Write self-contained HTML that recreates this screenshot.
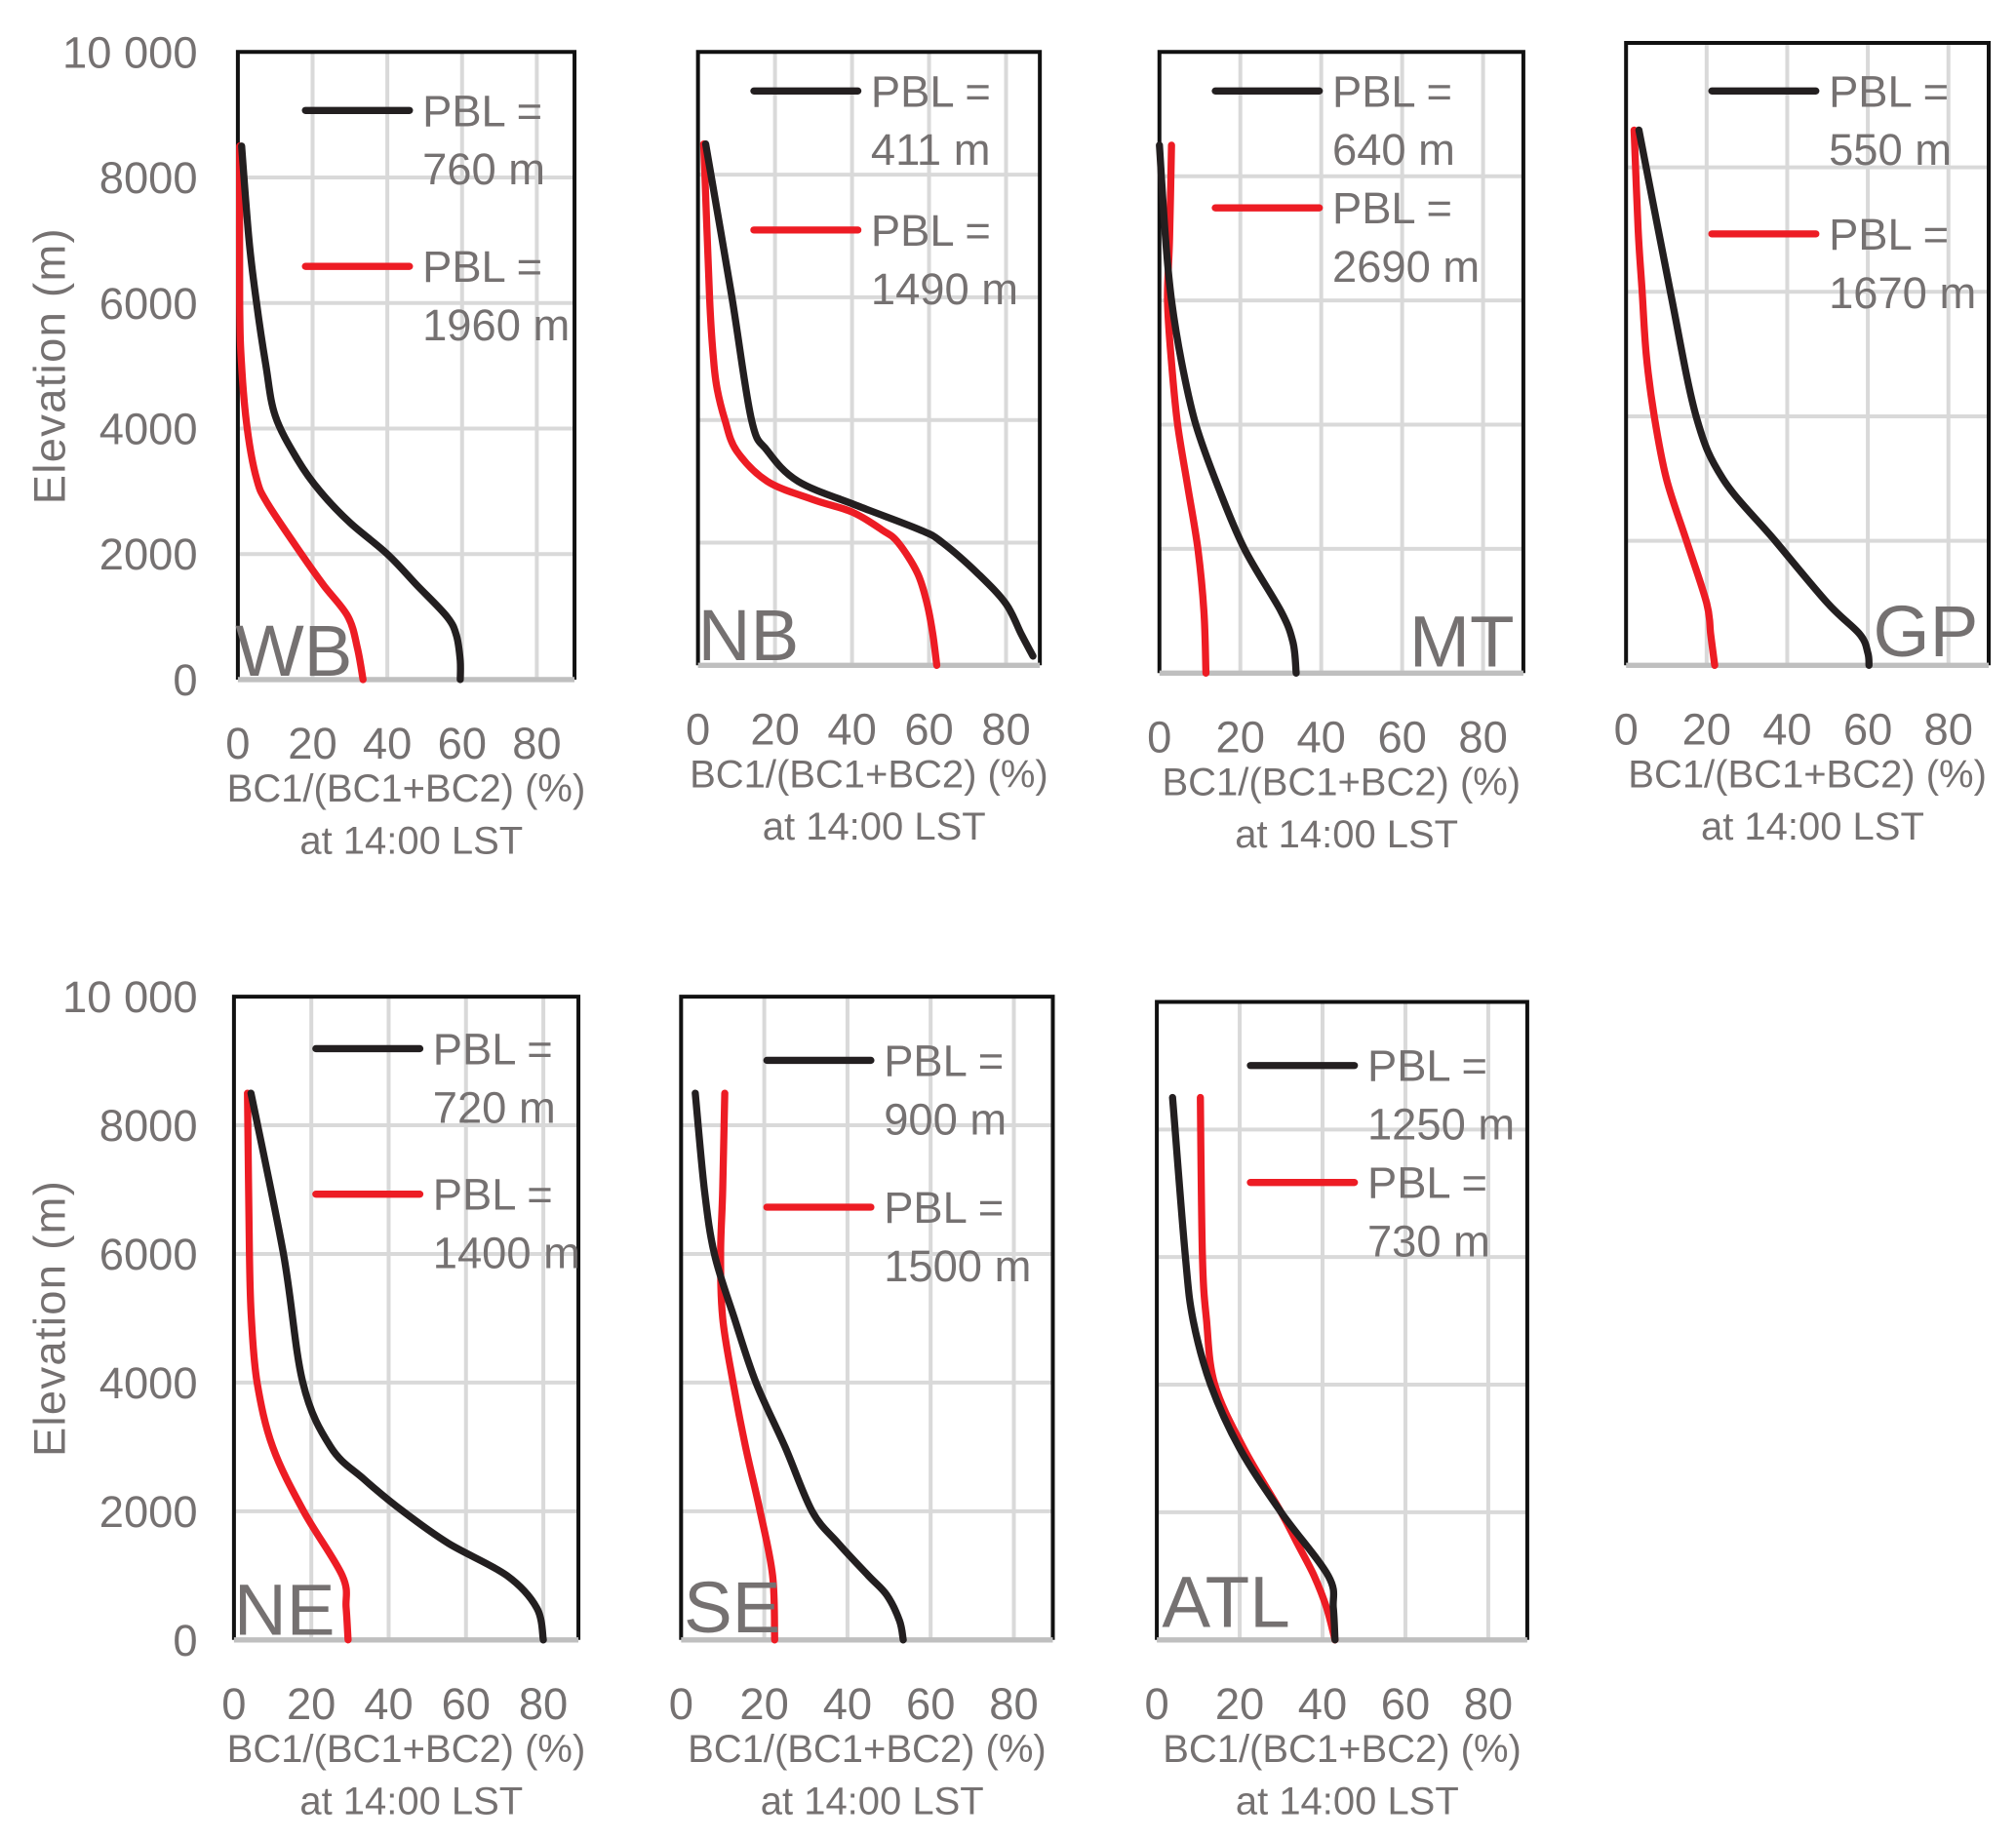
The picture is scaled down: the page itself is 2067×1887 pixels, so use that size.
<!DOCTYPE html>
<html><head><meta charset="utf-8"><style>
html,body{margin:0;padding:0;background:#fff;}
svg{display:block;font-family:"Liberation Sans Narrow","Liberation Sans",sans-serif;}
</style></head><body>
<svg id="fig" width="2067" height="1887" viewBox="0 0 1551 1416" preserveAspectRatio="none" xmlns="http://www.w3.org/2000/svg"></svg>
<script>
// Panel data: [elevation m, BC1/(BC1+BC2) %]
const panelNames = ["WB","NB","MT","GP","NE","SE","ATL"];
const pblBlack = ["760 m","411 m","640 m","550 m","720 m","900 m","1250 m"];
const pblRed = ["1960 m","1490 m","2690 m","1670 m","1400 m","1500 m","730 m"];
const xTicks = [0,20,40,60,80];
const yTicks = [0,2000,4000,6000,8000,10000];
const yTickLabels = ["0","2000","4000","6000","8000","10 000"];
const wbBlack = [[8500,1],[7000,3],[6000,5],[5000,7.5],[4200,10],[3500,16],[3000,22],[2500,30],[2000,40],[1500,48],[1000,56],[700,58.5],[300,59.5],[0,59.5]];
const wbRed = [[8500,0.5],[6000,0.5],[5000,1],[4000,2.5],[3200,5],[2800,8],[2000,17],[1500,23],[1000,29.5],[500,32],[0,33.5]];
const nbBlack = [[8500,2],[6000,8.8],[4000,13.9],[3500,18],[3000,26],[2600,41.5],[2200,58],[2000,63.5],[1500,72.6],[1000,80],[500,84],[150,87]];
const nbRed = [[8500,1.5],[6000,3],[5000,4],[4500,5],[4000,7],[3500,10],[3000,18],[2700,30],[2500,40],[2200,48],[2000,52],[1500,57],[1000,59.5],[500,61],[0,62]];
const mtBlack = [[8500,0],[7000,1.5],[6000,3],[5000,5.5],[4000,9],[3000,14.5],[2000,21],[1000,30],[500,33],[0,33.8]];
const mtRed = [[8500,3],[7000,2.5],[6000,2],[5000,3],[4000,4.5],[3000,7],[2000,9.5],[1000,11],[0,11.5]];
const gpBlack = [[8600,3.2],[6000,11],[4000,17.4],[3000,24],[2000,37],[1000,50],[500,58],[200,60],[0,60.3]];
const gpRed = [[8600,2],[7000,3],[6000,4],[5000,5],[4000,7],[3000,10],[2000,15],[1000,20],[500,21],[0,22]];
const neBlack = [[8500,4.4],[6000,12.8],[4000,17.8],[3000,25],[2500,33.6],[2000,43.7],[1500,55.5],[1000,70.6],[500,78.3],[0,80]];
const neRed = [[8500,3.5],[6000,4],[5000,4.5],[4000,6],[3000,10],[2000,18],[1000,28],[500,29],[0,29.5]];
const seBlack = [[8500,3.4],[7000,5.6],[6000,8],[5000,12.8],[4000,18],[3000,25],[2000,31.5],[1500,37.8],[1000,45],[700,49.4],[300,52.5],[0,53.4]];
const seRed = [[8500,10.5],[7000,10],[6000,9.5],[5000,10],[4000,12.5],[3000,15.5],[2000,19],[1000,22],[0,22.5]];
const atlBlack = [[8500,3.8],[6000,6.9],[5000,8.8],[4000,13],[3000,20],[2000,30],[1000,41.4],[500,42.6],[0,43]];
const atlRed = [[8500,10.5],[6000,11],[5000,12],[4000,14],[3000,21],[2000,30],[1500,34],[1000,38],[500,41],[0,43]];
const blackSeries = [wbBlack,nbBlack,mtBlack,gpBlack,neBlack,seBlack,atlBlack];
const redSeries = [wbRed,nbRed,mtRed,gpRed,neRed,seRed,atlRed];

const frames = [
 {L:183,R:442,T:40,B:523,x80:413,leg:[235,85,205],lab:[181,520,"start"],yl:true},
 {L:537,R:800,T:40,B:512,x80:774,leg:[580,70,177],lab:[537,508,"start"]},
 {L:892,R:1172,T:40,B:518,x80:1141,leg:[935,70,160],lab:[1165,513,"end"]},
 {L:1251,R:1530,T:33,B:512,x80:1499,leg:[1317,70,180],lab:[1522,505,"end"]},
 {L:180,R:445,T:767,B:1262,x80:418,leg:[243,807,919],lab:[180,1258,"start"],yl:true},
 {L:524,R:810,T:767,B:1262,x80:780,leg:[590,816,929],lab:[526,1256,"start"]},
 {L:890,R:1175,T:771,B:1262,x80:1145,leg:[962,820,910],lab:[894,1252,"start"]}
];
const NS="http://www.w3.org/2000/svg";
const svg=document.getElementById("fig");
const GRAY="#757171";
function mk(tag,attrs,parent){const e=document.createElementNS(NS,tag);for(const k in attrs)e.setAttribute(k,attrs[k]);(parent||svg).appendChild(e);return e;}
function txt(s,x,y,size,anchor,parent){const t=mk("text",{x:x,y:y,"font-size":size,fill:GRAY,"text-anchor":anchor||"middle"},parent);t.textContent=s;return t;}
function smooth(P){
  let d="M"+P[0][0].toFixed(1)+","+P[0][1].toFixed(1);
  for(let i=0;i<P.length-1;i++){
    const p0=P[i-1]||P[i],p1=P[i],p2=P[i+1],p3=P[i+2]||P[i+1];
    const c1=[p1[0]+(p2[0]-p0[0])/6,p1[1]+(p2[1]-p0[1])/6];
    const c2=[p2[0]-(p3[0]-p1[0])/6,p2[1]-(p3[1]-p1[1])/6];
    d+=`C${c1[0].toFixed(1)},${c1[1].toFixed(1)} ${c2[0].toFixed(1)},${c2[1].toFixed(1)} ${p2[0].toFixed(1)},${p2[1].toFixed(1)}`;
  }
  return d;
}

frames.forEach((f,i)=>{
  const g=mk("g",{});
  
  
  const xs=v=>f.L+(f.x80-f.L)*v/80;
  const ys=v=>f.B-(f.B-f.T)*v/10000;
  xTicks.forEach(t=>{ if(t>0){const l=mk("line",{x1:xs(t),x2:xs(t),y1:f.T,y2:f.B,stroke:"#d9d9d9","stroke-width":3},g);
    
    }
    const tl=txt(String(t),xs(t),f.B+61,34,"middle",g);
    
    
  });
  yTicks.forEach((t,j)=>{ if(t>0&&t<10000){const l=mk("line",{x1:f.L,x2:f.R,y1:ys(t),y2:ys(t),stroke:"#d9d9d9","stroke-width":3},g);
    
    }
    if(f.yl){const tl=txt(yTickLabels[j],152,ys(t)+12,34,"end",g);
      
      }
  });
  const fr=mk("path",{d:`M${f.L},${f.B}L${f.L},${f.T}L${f.R},${f.T}L${f.R},${f.B}`,fill:"none",stroke:"#111","stroke-width":3},g);
  
  
  const bl=mk("line",{x1:f.L,x2:f.R,y1:f.B,y2:f.B,stroke:"#bfbfbf","stroke-width":4},g);
  
  
  [[redSeries[i],"#ed1c24","series-red"],[blackSeries[i],"#231f20","series-black"]].forEach(([d,c,n])=>{
    const pts=d.map(pt=>[xs(pt[1]),ys(pt[0])]);
    const p=mk("path",{d:smooth(pts),fill:"none",stroke:c,"stroke-width":5.5,"stroke-linejoin":"round","stroke-linecap":"round"},g);
    
    
  });
  const [lx,by,ry]=f.leg;
  [[by,"#231f20",pblBlack[i],"legend-black"],[ry,"#ed1c24",pblRed[i],"legend-red"]].forEach(([yy,c,s,n])=>{
    const lg=mk("g",{},g);
    
    
    mk("line",{x1:lx,x2:lx+80,y1:yy,y2:yy,stroke:c,"stroke-width":5.5,"stroke-linecap":"round"},lg);
    txt("PBL =",lx+90,yy+12,34,"start",lg);
    txt(s,lx+90,yy+57,34,"start",lg);
  });
  const pl=txt(panelNames[i],f.lab[0],f.lab[1],56,f.lab[2],g);
  
  
  const cx=(f.L+f.R)/2;
  const t1=txt("BC1/(BC1+BC2) (%)",cx,f.B+94,30,"middle",g);
  
  
  const t2=txt("at 14:00 LST",cx+4,f.B+134,30,"middle",g);
  
  
  if(f.yl){
    const yt=txt("Elevation (m)",0,0,34,"middle",g);
    yt.setAttribute('font-family','"Liberation Sans",sans-serif');
    yt.setAttribute('letter-spacing','1');
    yt.setAttribute('transform',`translate(50,${(f.T+f.B)/2}) rotate(-90)`);
    
    
  }
});
</script>
</body></html>
